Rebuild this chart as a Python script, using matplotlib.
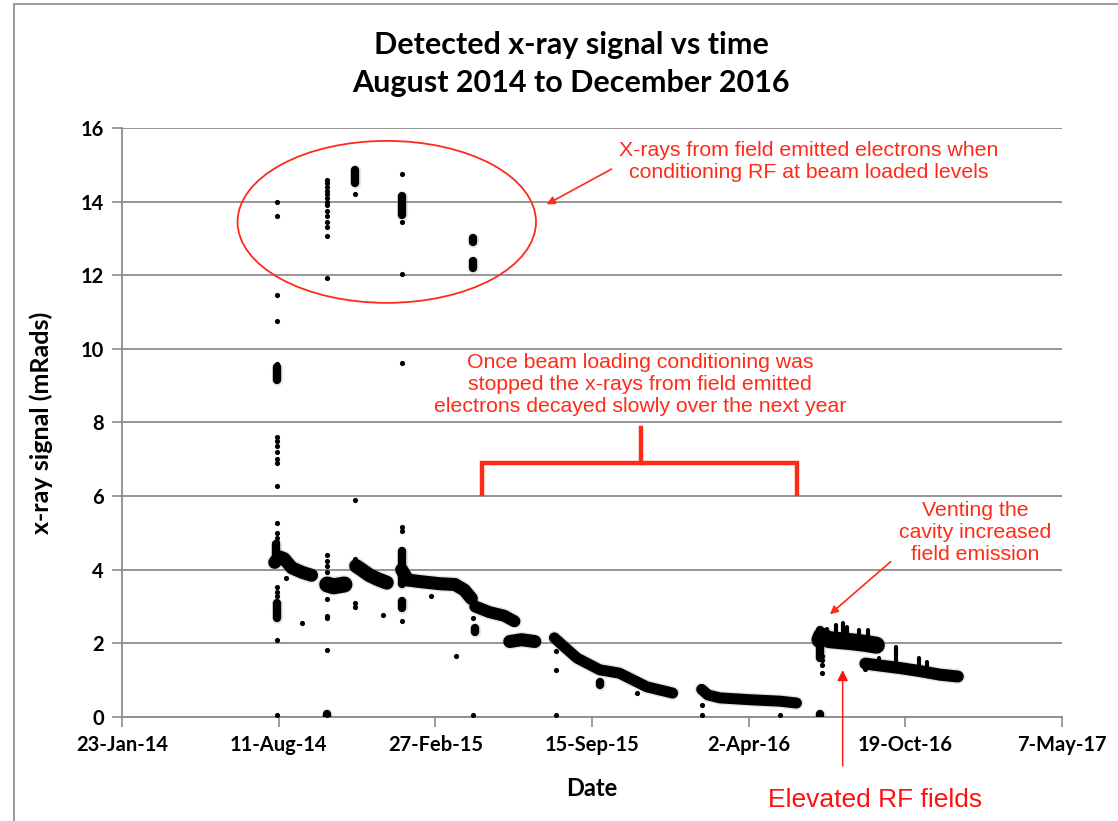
import matplotlib
matplotlib.use("Agg")
import matplotlib.pyplot as plt
import matplotlib.dates as mdates
import pandas as pd
from matplotlib.patches import Ellipse
from matplotlib.lines import Line2D

# dense runs of readings
run1_dates = ["2014-08-06", "2014-08-12", "2014-08-18", "2014-08-28", "2014-09-10", "2014-09-22"]
run1_vals = [4.2, 4.35, 4.3, 4.05, 3.93, 3.85]
run2_dates = ["2014-10-12", "2014-10-20", "2014-11-03"]
run2_vals = [3.6, 3.55, 3.6]
run3_dates = ["2014-11-18", "2014-11-25", "2014-12-05", "2014-12-15", "2014-12-27"]
run3_vals = [4.1, 4.0, 3.85, 3.75, 3.65]
run4_dates = ["2015-01-15", "2015-01-23", "2015-02-07", "2015-03-05", "2015-03-24", "2015-04-05", "2015-04-14"]
run4_vals = [4.0, 3.72, 3.68, 3.62, 3.6, 3.45, 3.22]
run5_dates = ["2015-04-19", "2015-05-07", "2015-05-26", "2015-06-08"]
run5_vals = [3.0, 2.85, 2.75, 2.6]
run6_dates = ["2015-06-02", "2015-06-17", "2015-07-04"]
run6_vals = [2.05, 2.1, 2.05]
run7_dates = ["2015-07-29", "2015-08-11", "2015-08-27", "2015-09-25", "2015-10-04", "2015-10-20",
              "2015-11-24", "2015-12-27"]
run7_vals = [2.15, 1.9, 1.6, 1.28, 1.25, 1.19, 0.82, 0.65]
run8_dates = ["2016-02-02", "2016-02-10", "2016-02-25", "2016-04-03", "2016-05-12", "2016-06-02"]
run8_vals = [0.75, 0.6, 0.52, 0.47, 0.43, 0.38]
run9_dates = ["2016-07-02", "2016-07-04", "2016-07-14", "2016-08-09", "2016-08-29", "2016-09-12"]
run9_vals = [2.1, 2.2, 2.1, 2.05, 2.0, 1.95]
run10_dates = ["2016-08-29", "2016-09-16", "2016-10-12", "2016-11-06", "2016-12-02", "2016-12-25"]
run10_vals = [1.45, 1.4, 1.33, 1.25, 1.15, 1.1]

runs = [(run1_dates, run1_vals), (run2_dates, run2_vals), (run3_dates, run3_vals),
        (run4_dates, run4_vals), (run5_dates, run5_vals), (run6_dates, run6_vals),
        (run7_dates, run7_vals), (run8_dates, run8_vals), (run9_dates, run9_vals),
        (run10_dates, run10_vals)]
run_widths = [13, 16, 14, 13, 12, 13, 11, 11, 17, 12]

# short bursts (date, low, high)
burst_dates = ["2016-07-11", "2016-07-23", "2016-07-31", "2016-08-06", "2016-08-21", "2016-09-01",
               "2016-09-16", "2016-10-07", "2016-11-06", "2016-11-16"]
burst_lo = [2.0, 2.0, 2.0, 2.0, 2.0, 1.95, 1.4, 1.35, 1.25, 1.2]
burst_hi = [2.4, 2.5, 2.55, 2.45, 2.35, 2.35, 1.6, 1.9, 1.6, 1.5]

# tight clumps of readings (date, low, high)
clump_dates = ["2014-08-09", "2014-08-09", "2014-11-16", "2015-01-15", "2015-01-15", "2015-04-16",
               "2015-04-16", "2015-04-19", "2015-09-25", "2016-07-02", "2014-10-12", "2016-07-02",
               "2015-01-15", "2014-08-08"]
clump_lo = [9.15, 2.7, 14.5, 13.65, 2.95, 12.2, 12.9, 2.3, 0.88, 0.03, 0.0, 1.6, 3.6, 4.2]
clump_hi = [9.5, 3.1, 14.85, 14.15, 3.15, 12.4, 13.0, 2.42, 0.96, 0.08, 0.08, 2.35, 4.5, 4.7]

# single readings
spot_dates = (["2014-08-09"] * 26 + ["2014-08-20", "2014-09-10"] + ["2014-10-12"] * 23
              + ["2014-11-16"] * 9 + ["2014-12-22"] + ["2015-01-15"] * 14
              + ["2015-02-22", "2015-03-25"] + ["2015-04-16"] * 4 + ["2015-07-31"] * 3
              + ["2015-11-11", "2016-02-02", "2016-02-02", "2016-05-12"]
              + ["2016-07-04"] * 4 + ["2016-08-29"] * 2)
spot_vals = ([14.0, 13.6, 11.47, 10.76, 9.6, 9.5, 9.4, 7.6, 7.5, 7.35, 7.2, 7.0, 6.9, 6.28, 5.27,
              5.0, 4.85, 4.75, 4.6, 3.53, 3.4, 3.3, 3.1, 2.7, 2.09, 0.05]
             + [3.78, 2.55]
             + [14.6, 14.5, 14.4, 14.3, 14.2, 14.1, 14.0, 13.9, 13.75, 13.6, 13.45, 13.3, 13.07,
                11.93, 4.4, 4.25, 4.1, 3.95, 3.2, 2.75, 2.7, 1.82, 0.05]
             + [14.8, 14.7, 14.6, 14.5, 14.2, 5.9, 4.3, 3.1, 3.0]
             + [2.77]
             + [14.75, 14.15, 14.05, 13.95, 13.85, 13.75, 13.45, 12.04, 9.62, 5.15, 5.05, 4.55,
                4.4, 2.6]
             + [3.3, 1.66]
             + [12.96, 12.9, 2.7, 0.05]
             + [1.8, 1.28, 0.05]
             + [0.65, 0.33, 0.05, 0.05]
             + [1.4, 1.2, 1.55, 1.65]
             + [1.3, 1.35])

tick_dates = ["2014-01-23", "2014-08-11", "2015-02-27", "2015-09-15", "2016-04-02", "2016-10-19",
              "2017-05-07"]
tick_labels = ["23-Jan-14", "11-Aug-14", "27-Feb-15", "15-Sep-15", "2-Apr-16", "19-Oct-16",
               "7-May-17"]

RED = "#ff2a17"
bold_font = ["Lato", "DejaVu Sans"]
note_font = ["Liberation Sans", "DejaVu Sans"]

fig = plt.figure(figsize=(11.18, 8.21), dpi=100)
ax = fig.add_axes([122 / 1118, 1 - 717 / 821, 940 / 1118, 589 / 821])

d = lambda s: mdates.date2num(pd.to_datetime(s))

for (dates, vals), w in zip(runs, run_widths):
    x = [d(s) for s in dates]
    ax.plot(x, vals, color="0.6", lw=w * 0.72 + 2.0, alpha=0.25, solid_capstyle="round", zorder=2)
    ax.plot(x, vals, color="black", lw=w * 0.72, solid_capstyle="round", zorder=3)

for s, lo, hi in zip(burst_dates, burst_lo, burst_hi):
    ax.plot([d(s), d(s)], [lo, hi], color="black", lw=3.0, solid_capstyle="round", zorder=3)

for s, lo, hi in zip(clump_dates, clump_lo, clump_hi):
    ax.plot([d(s), d(s)], [lo, hi], color="0.6", lw=8.0, alpha=0.25, solid_capstyle="round", zorder=2)
    ax.plot([d(s), d(s)], [lo, hi], color="black", lw=6.0, solid_capstyle="round", zorder=3)

ax.scatter([d(s) for s in spot_dates], spot_vals, s=14, color="black", zorder=4, linewidths=0)

ax.set_xlim(d(tick_dates[0]), d(tick_dates[-1]))
ax.set_ylim(0, 16)
ax.set_xticks([d(s) for s in tick_dates])
ax.set_xticklabels(tick_labels, family=bold_font, fontweight="bold", fontsize=14.5)
ax.set_yticks(range(0, 17, 2))
ax.set_yticklabels([str(v) for v in range(0, 17, 2)], family=bold_font, fontweight="bold", fontsize=14.5)
ax.tick_params(axis="both", length=7, width=1.2, color="#8c8c8c", pad=6)
ax.yaxis.grid(True, color="#8c8c8c", lw=1.3)
ax.set_axisbelow(True)
for side in ["top", "right"]:
    ax.spines[side].set_visible(False)
for side in ["left", "bottom"]:
    ax.spines[side].set_color("#8c8c8c")
    ax.spines[side].set_linewidth(1.3)

ax.set_xlabel("Date", family=bold_font, fontweight="bold", fontsize=17, labelpad=16)
ax.set_ylabel("x-ray signal (mRads)", family=bold_font, fontweight="bold", fontsize=18, labelpad=20)

fig.text(0.511, 1 - 64 / 821, "Detected x-ray signal vs time\nAugust 2014 to December 2016",
         ha="center", va="center", family=bold_font, fontweight="bold", fontsize=22, linespacing=1.4)

# annotations
ax.add_patch(Ellipse((d("2014-12-27"), 13.45), 381, 4.4, fill=False, edgecolor=RED, lw=1.3, zorder=5))
ax.annotate("", xy=(d("2015-07-16"), 13.89), xytext=(d("2015-10-13"), 14.92),
            arrowprops=dict(arrowstyle="-|>", color=RED, lw=1.2, mutation_scale=12))
ax.text(d("2016-06-18"), 15.08, "X-rays from field emitted electrons when\nconditioning RF at beam loaded levels",
        ha="center", va="center", color=RED, family=note_font, fontsize=15.3, linespacing=1.2)

ax.text(d("2015-11-15"), 9.02,
        "Once beam loading conditioning was\nstopped the x-rays from field emitted\nelectrons decayed slowly over the next year",
        ha="center", va="center", color=RED, family=note_font, fontsize=15.3, linespacing=1.2)
ax.plot([d("2015-04-27"), d("2015-04-27"), d("2016-06-03"), d("2016-06-03")], [6.06, 6.9, 6.9, 6.06],
        color=RED, lw=3.2, solid_joinstyle="miter", zorder=5)
ax.plot([d("2015-11-16"), d("2015-11-16")], [6.9, 7.85], color=RED, lw=3.2, zorder=5)

ax.text(d("2017-01-16"), 5.0, "Venting the\ncavity increased\nfield emission",
        ha="center", va="center", color=RED, family=note_font, fontsize=15.3, linespacing=1.2)
ax.annotate("", xy=(d("2016-07-12"), 2.74), xytext=(d("2016-10-03"), 4.27),
            arrowprops=dict(arrowstyle="-|>", color=RED, lw=1.2, mutation_scale=12))

ax.annotate("", xy=(d("2016-07-31"), 1.35), xytext=(d("2016-07-31"), -1.4),
            arrowprops=dict(arrowstyle="-|>", color="#ff1010", lw=1.0, mutation_scale=16),
            annotation_clip=False)
ax.text(d("2016-09-10"), -2.26, "Elevated RF fields", ha="center", va="center", color="#ff1010",
        family=note_font, fontsize=19, clip_on=False)

# partial frame around the picture
fig.add_artist(Line2D([14 / 1118, 1], [1 - 4 / 821, 1 - 4 / 821], color="#9a9a9a", lw=1.4))
fig.add_artist(Line2D([14 / 1118, 14 / 1118], [0, 1 - 4 / 821], color="#9a9a9a", lw=1.4))

fig.savefig("out.png", dpi=100)
